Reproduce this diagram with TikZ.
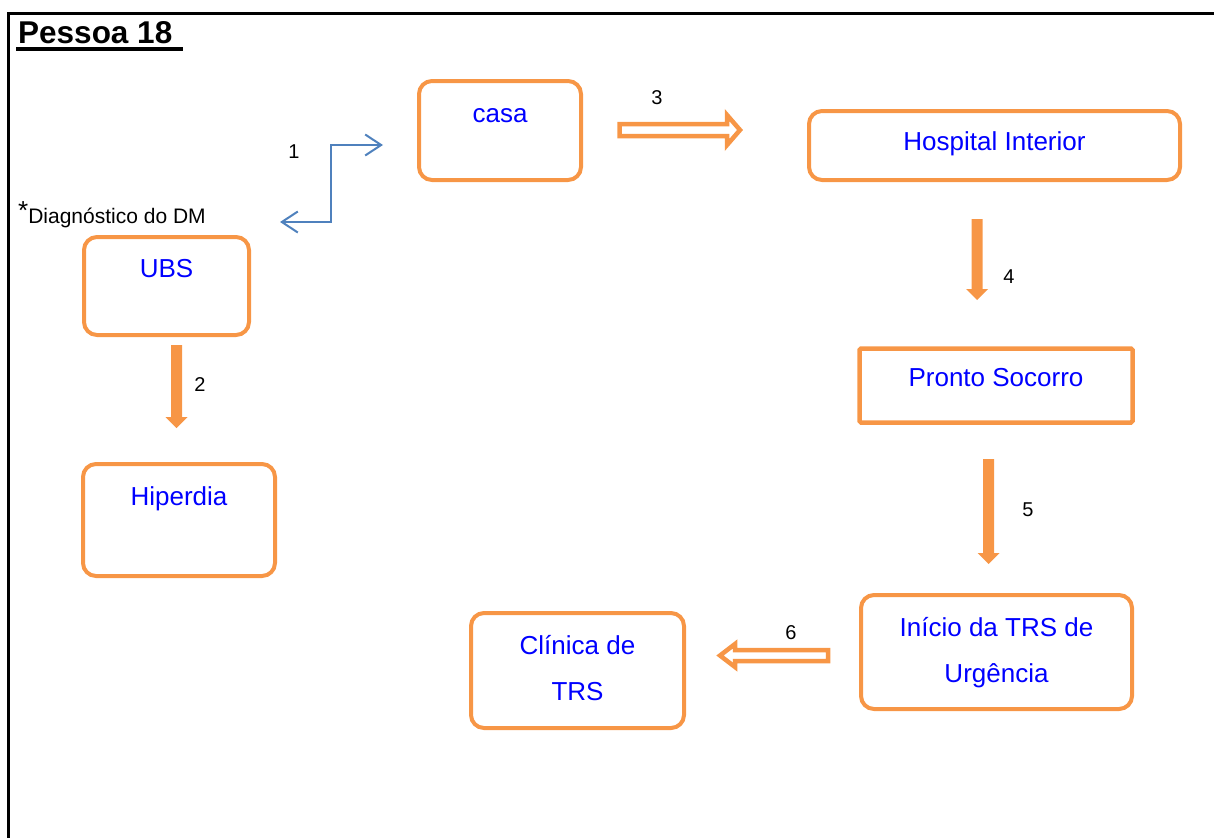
\documentclass[tikz,border=0pt]{standalone}
\usepackage{fontspec}
\setmainfont{Liberation Sans}
\usetikzlibrary{arrows.meta,calc}
\definecolor{boxorange}{HTML}{F79646}
\definecolor{linkblue}{HTML}{4F81BD}
\definecolor{txtblue}{HTML}{0000FF}

\begin{document}
\begin{tikzpicture}[x=1pt,y=-1pt,
  rbox/.style={draw=boxorange, line width=4pt, rounded corners=13pt, inner sep=0pt, outer sep=0pt},
  sbox/.style={draw=boxorange, line width=4.5pt, rounded corners=1.5pt, inner sep=0pt, outer sep=0pt},
  lbl/.style={text=txtblue, font=\fontsize{26}{30}\selectfont, anchor=base, inner sep=0pt},
  num/.style={font=\fontsize{20}{24}\selectfont, anchor=base, inner sep=0pt},
  hollowarrow/.style={draw=boxorange, line width=4.5pt, fill=white, line join=miter},
  elbow/.style={draw=linkblue, line width=2pt,
    {Straight Barb[length=16pt,width=21pt]}-{Straight Barb[length=16pt,width=21pt]}},
  pics/downblock/.style={code={
    \fill[boxorange] (-5.5,0) -- (5.5,0) -- (5.5,#1) -- (11,#1) -- (0,{#1+11})
      -- (-11,#1) -- (-5.5,#1) -- cycle;}}
]
\useasboundingbox (0,0) rectangle (1214,838);

% page frame (top and left rules)
\draw[line width=3pt] (1214,13) -- (8,13) -- (8,838);

% heading
\node[font=\fontsize{31.5}{38}\selectfont\bfseries, anchor=base west, inner sep=0pt]
  (title) at (18,43) {Pessoa 18};
\draw[line width=3.2pt] ($(title.base west)+(-2,6)$) -- ++(167,0);

% boxes
\node[rbox, minimum width=162pt, minimum height=99pt]  (casa)  at (500,130.5) {};
\node[rbox, minimum width=371pt, minimum height=69pt]  (hosp)  at (994.5,145.5) {};
\node[rbox, minimum width=165pt, minimum height=98pt]  (ubs)   at (166.5,286) {};
\node[rbox, minimum width=192pt, minimum height=112pt] (hiper) at (179,520) {};
\node[sbox, minimum width=273pt, minimum height=74pt]  (ps)    at (996,385.5) {};
\node[rbox, minimum width=271pt, minimum height=114pt] (inicio) at (996.5,652) {};
\node[rbox, minimum width=213pt, minimum height=115pt] (clinica) at (577.5,670.5) {};

% box texts
\node[lbl] (casaT)  at (500,122) {casa};
\node[lbl] (hospT)  at (994.5,150) {Hospital Interior};
\node[lbl] (ubsT)   at (166.5,277) {UBS};
\node[lbl] (hiperT) at (179,505) {Hiperdia};
\node[lbl] (psT)    at (996,386) {Pronto Socorro};
\node[lbl] (inicioT1) at (996.5,636) {Início da TRS de};
\node[lbl] (inicioT2) at (996.5,682) {Urgência};
\node[lbl] (clinT1) at (577.5,654) {Clínica de};
\node[lbl] (clinT2) at (577.5,700) {TRS};

% note beside UBS
\node[font=\fontsize{21}{25}\selectfont, anchor=base west, inner sep=0pt] (diag) at (18,223)
  {{\fontsize{26}{26}\selectfont\raisebox{4pt}{*}}Diagnóstico do DM};

% connector 1: elbow with open heads on both ends
\coordinate (diagEnd) at (280,222);
\coordinate (casaEnd) at (383,145);
\draw[elbow] (diagEnd) -- ++(51,0) |- (casaEnd);
\node[num] (n1) at (294,158) {1};

% connector 2: UBS to Hiperdia
\coordinate (a2) at (176.5,345);
\pic at (a2) {downblock=72};
\node[num] (n2) at (200,391) {2};

% connector 3: casa to Hospital Interior (hollow)
\coordinate (a3) at (619.5,130);
\draw[hollowarrow] (a3) ++(0,-6) -- ++(107.5,0) -- ++(0,-9) -- ++(13,15)
  -- ++(-13,15) -- ++(0,-9) -- ++(-107.5,0) -- cycle;
\node[num] (n3) at (657,104) {3};

% connector 4: Hospital Interior to Pronto Socorro
\coordinate (a4) at (977,219);
\pic at (a4) {downblock=70};
\node[num] (n4) at (1009,283) {4};

% connector 5: Pronto Socorro to Início da TRS
\coordinate (a5) at (988.5,459);
\pic at (a5) {downblock=94};
\node[num] (n5) at (1028,516) {5};

% connector 6: Início da TRS to Clínica (hollow)
\coordinate (a6) at (828,655.5);
\draw[hollowarrow] (a6) ++(0,-5.5) -- ++(-93,0) -- ++(0,-6) -- ++(-15,11.5)
  -- ++(15,11.5) -- ++(0,-6) -- ++(93,0) -- cycle;
\node[num] (n6) at (791,639) {6};
\end{tikzpicture}
\end{document}
